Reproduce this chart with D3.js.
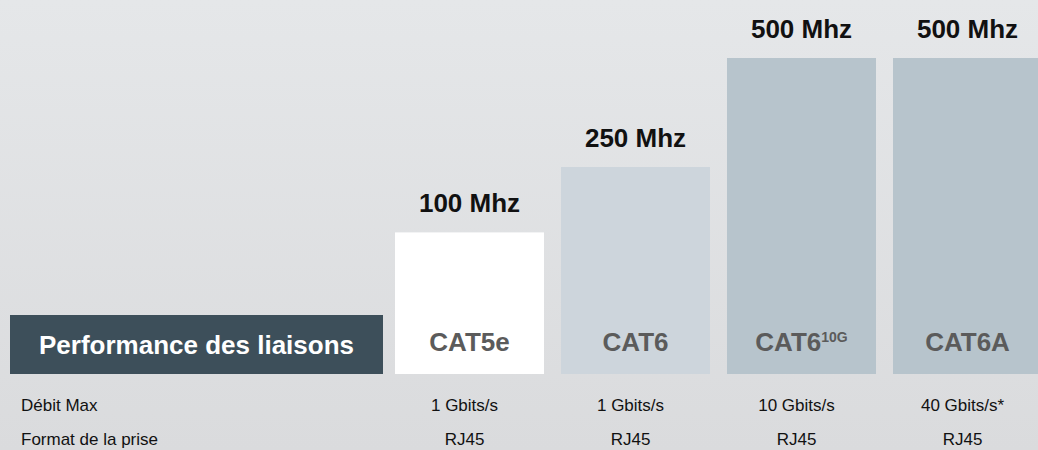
<!DOCTYPE html>
<html>
<head>
<meta charset="utf-8">
<script src="https://cdn.jsdelivr.net/npm/d3@7"></script>
<style>
  html, body { margin: 0; padding: 0; overflow: hidden; }
  svg { display: block; font-family: "Liberation Sans", Arial, Helvetica, sans-serif; }
</style>
</head>
<body>
<div id="chart"></div>
<script>
// Categories, bandwidth values and table rows
const categories = ['CAT5e', 'CAT6', 'CAT6 10G', 'CAT6A'];
const names = [['CAT5e', ''], ['CAT6', ''], ['CAT6', '10G'], ['CAT6A', '']];
const mhz = [100, 250, 500, 500];
const barColors = ['#ffffff', '#cdd5dc', '#b7c4cc', '#b7c4cc'];
const rowLabels = ['Débit Max', 'Format de la prise'];
const debit = ['1 Gbits/s', '1 Gbits/s', '10 Gbits/s', '40 Gbits/s*'];
const prise = ['RJ45', 'RJ45', 'RJ45', 'RJ45'];
const title = 'Performance des liaisons';

const width = 1038, height = 450;
const baseline = 374;

const svg = d3.select('#chart')
  .append('svg')
    .attr('width', width)
    .attr('height', height);

// background gradient
const grad = svg.append('defs').append('linearGradient')
    .attr('id', 'bg')
    .attr('x1', 0).attr('y1', 0).attr('x2', 0).attr('y2', 1);
grad.append('stop').attr('offset', '0%').attr('stop-color', '#e5e7e9');
grad.append('stop').attr('offset', '100%').attr('stop-color', '#dadbdd');
svg.append('rect')
    .attr('width', width).attr('height', height)
    .attr('fill', 'url(#bg)');

// scales
const x = d3.scaleBand()
  .domain(categories)
  .range([395, 1042])
  .paddingInner(17 / 166)
  .paddingOuter(0);

const y = d3.scaleLinear()
  .domain([0, 500])
  .range([276, 58]);

const data = categories.map((c, i) => ({
  cat: c, name: names[i], mhz: mhz[i], color: barColors[i],
  debit: debit[i], prise: prise[i]
}));

// bars
svg.selectAll('.bar')
  .data(data)
  .enter()
  .append('rect')
    .attr('class', 'bar')
    .attr('x', d => x(d.cat))
    .attr('y', d => y(d.mhz))
    .attr('width', x.bandwidth())
    .attr('height', d => baseline - y(d.mhz))
    .attr('fill', d => d.color);

// value labels
svg.selectAll('.val')
  .data(data)
  .enter()
  .append('text')
    .attr('class', 'val')
    .attr('x', d => x(d.cat) + x.bandwidth() / 2)
    .attr('y', d => y(d.mhz) - 20)
    .attr('text-anchor', 'middle')
    .attr('font-size', 26)
    .attr('font-weight', 'bold')
    .attr('fill', '#111')
    .text(d => d.mhz + ' Mhz');

// category names inside the bars
const cat = svg.selectAll('.cat')
  .data(data)
  .enter()
  .append('text')
    .attr('class', 'cat')
    .attr('x', d => x(d.cat) + x.bandwidth() / 2)
    .attr('y', 351)
    .attr('text-anchor', 'middle')
    .attr('font-size', 26)
    .attr('font-weight', 'bold')
    .attr('fill', '#5b5b5b');
cat.append('tspan').text(d => d.name[0]);
cat.filter(d => d.name[1])
  .append('tspan')
    .attr('font-size', 14)
    .attr('dy', -9)
    .text(d => d.name[1]);

// title box
svg.append('rect')
    .attr('x', 10).attr('y', 315)
    .attr('width', 373).attr('height', baseline - 315)
    .attr('fill', '#3d4f5a');
svg.append('text')
    .attr('x', 10 + 373 / 2)
    .attr('y', 354)
    .attr('text-anchor', 'middle')
    .attr('font-size', 26)
    .attr('font-weight', 'bold')
    .attr('fill', '#ffffff')
    .text(title);

// table rows
const rowY = [411, 445];
svg.selectAll('.rowlabel')
  .data(rowLabels)
  .enter()
  .append('text')
    .attr('class', 'rowlabel')
    .attr('x', 21)
    .attr('y', (d, i) => rowY[i])
    .attr('font-size', 17)
    .attr('fill', '#111')
    .text(d => d);

[debit, prise].forEach((row, r) => {
  svg.selectAll('.row' + r)
    .data(data)
    .enter()
    .append('text')
      .attr('class', 'row' + r)
      .attr('x', d => x(d.cat) + x.bandwidth() / 2 - 5)
      .attr('y', rowY[r])
      .attr('text-anchor', 'middle')
      .attr('font-size', 17)
      .attr('fill', '#111')
      .text(d => r === 0 ? d.debit : d.prise);
});
</script>
</body>
</html>
